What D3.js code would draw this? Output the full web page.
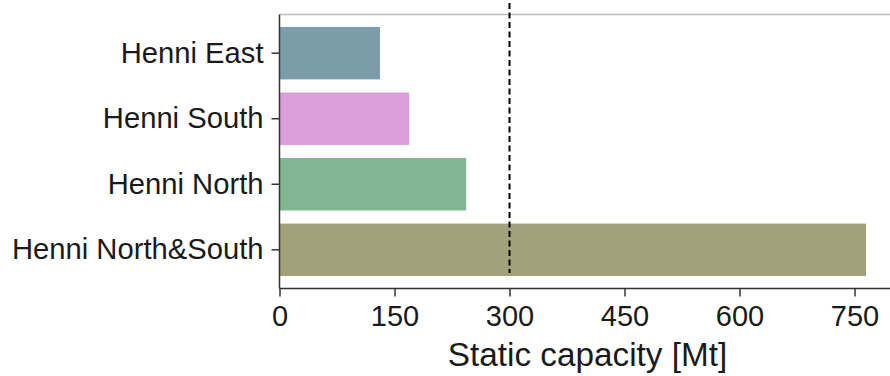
<!DOCTYPE html>
<html>
<head>
<meta charset="utf-8">
<script src="https://cdn.jsdelivr.net/npm/d3@7"></script>
<style>
  html, body { margin: 0; padding: 0; background: #fff; }
  svg { display: block; font-family: "Liberation Sans", Arial, sans-serif; }
</style>
</head>
<body>
<svg id="chart" width="890" height="376"></svg>
<script>
const categories = ["Henni East", "Henni South", "Henni North", "Henni North&South"];
const capacity = [131, 169, 243.5, 765];
const barColors = ["#7b9daa", "#dc9edb", "#82b593", "#a2a17a"];
const xTicks = [0, 150, 300, 450, 600, 750];
const threshold = 300;
const xLabel = "Static capacity [Mt]";

const svg = d3.select("#chart");
const plotLeft = 279.5, plotTop = 14.5, plotBottom = 288.5;

const x = d3.scaleLinear().domain([0, 803]).range([plotLeft, plotLeft + 803 * 0.7667]);
const y = d3.scaleBand().domain(categories).range([plotTop, plotBottom]).paddingInner(0.2).paddingOuter(0.19);

// top spine (light)
svg.append("line")
  .attr("x1", plotLeft).attr("x2", 890).attr("y1", plotTop).attr("y2", plotTop)
  .attr("stroke", "#bdbdbd").attr("stroke-width", 1.5);

// bars
svg.append("g").selectAll("rect").data(categories).join("rect")
  .attr("x", x(0))
  .attr("y", d => y(d))
  .attr("width", (d, i) => x(capacity[i]) - x(0))
  .attr("height", y.bandwidth())
  .attr("fill", (d, i) => barColors[i]);

// threshold dashed line
svg.append("line")
  .attr("x1", x(threshold)).attr("x2", x(threshold))
  .attr("y1", 3).attr("y2", y(categories[3]) + y.bandwidth() - 3)
  .attr("stroke", "#000").attr("stroke-width", 2)
  .attr("stroke-dasharray", "6,3.5");

// x axis
const xAxis = svg.append("g").attr("transform", `translate(0,${plotBottom})`)
  .call(d3.axisBottom(x).tickValues(xTicks).tickSize(8).tickPadding(9).tickFormat(d3.format("d")));
xAxis.select(".domain").attr("stroke", "#333").attr("stroke-width", 1.5).attr("d", `M${plotLeft},0H890`);
xAxis.selectAll(".tick line").attr("stroke", "#333").attr("stroke-width", 1.5);
xAxis.selectAll(".tick text").attr("font-size", 29).attr("fill", "#1a1a1a")
  .attr("font-family", "Liberation Sans, Arial, sans-serif");

// y axis
const yAxis = svg.append("g").attr("transform", `translate(${plotLeft},0)`)
  .call(d3.axisLeft(y).tickSize(8).tickPadding(8));
yAxis.select(".domain").attr("stroke", "#333").attr("stroke-width", 1.5).attr("d", `M0,${plotTop}V${plotBottom}`);
yAxis.selectAll(".tick line").attr("stroke", "#333").attr("stroke-width", 1.5);
yAxis.selectAll(".tick text").attr("font-size", 29.2).attr("fill", "#1a1a1a")
  .attr("font-family", "Liberation Sans, Arial, sans-serif");

// x label
svg.append("text")
  .attr("x", (449 + 726) / 2).attr("y", 366)
  .attr("text-anchor", "middle")
  .attr("font-size", 33.3).attr("fill", "#1a1a1a")
  .text(xLabel);
</script>
</body>
</html>
